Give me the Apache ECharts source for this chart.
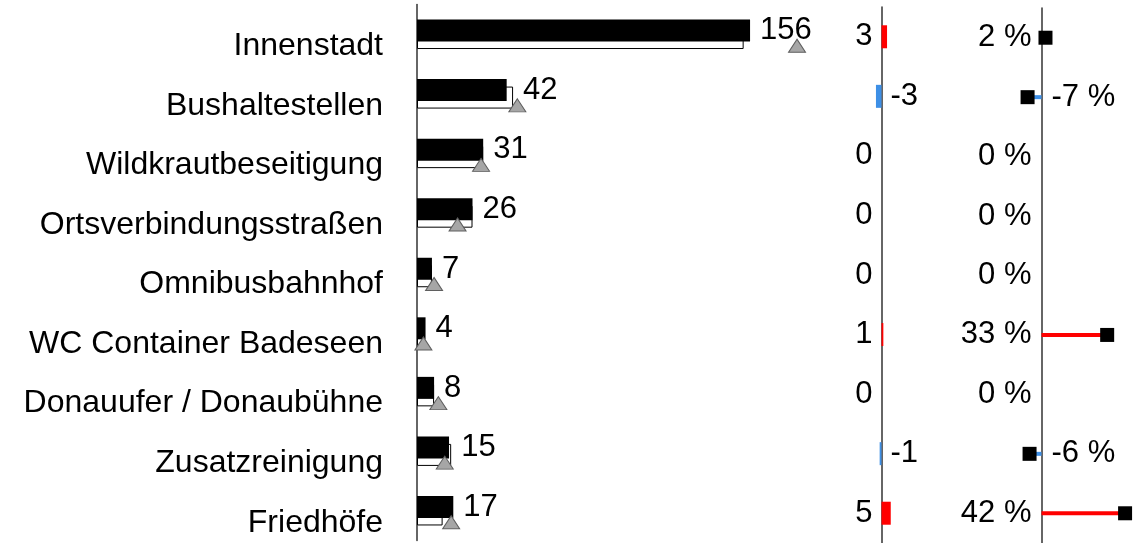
<!DOCTYPE html>
<html>
<head>
<meta charset="utf-8">
<script src="https://cdn.jsdelivr.net/npm/echarts@6/dist/echarts.min.js"></script>
<style>
  html, body { margin: 0; padding: 0; background: #fff; }
  #chart { width: 1141px; height: 543px; }
</style>
</head>
<body>
<div id="chart"></div>
<script>
// Kategorien und Werte
const categories = ['Innenstadt', 'Bushaltestellen', 'Wildkrautbeseitigung', 'Ortsverbindungsstraßen',
  'Omnibusbahnhof', 'WC Container Badeseen', 'Donauufer / Donaubühne', 'Zusatzreinigung', 'Friedhöfe'];
const current = [156, 42, 31, 26, 7, 4, 8, 15, 17];
const previous = [153, 45, 31, 26, 7, 3, 8, 16, 12];
const plan = [178, 47, 30, 19, 8, 3, 10, 13, 16];
const diffAbs = [3, -3, 0, 0, 0, 1, 0, -1, 5];
const diffPct = [2, -7, 0, 0, 0, 33, 0, -6, 42];

const FONT = "'Liberation Sans', Arial, sans-serif";
const RED = '#ff0000';
const BLUE = '#3d8fe6';

let chart = echarts.init(document.getElementById('chart'));

function catAxis(grid, labels) {
  return {
    gridIndex: grid,
    type: 'category',
    data: categories,
    inverse: true,
    axisTick: { show: false },
    axisLine: { show: true, onZero: true, lineStyle: { color: '#333', width: 1.5 } },
    axisLabel: labels ? {
      fontSize: 32, color: '#000', fontFamily: FONT, margin: 34,
      verticalAlign: 'top', lineHeight: 24
    } : { show: false }
  };
}

// Abweichung: positive Werte links der Achse, negative rechts
function diffItems(values) {
  return values.map(v => ({
    value: v,
    itemStyle: { color: v < 0 ? BLUE : RED },
    label: { position: v < 0 ? 'right' : 'left' }
  }));
}

let option = {
  animation: false,
  grid: [
    { left: 417, top: 4.5, width: 427, height: 536 },
    { left: 863, top: 7, width: 37, height: 536 },
    { left: 942, top: 8, width: 207, height: 536 }
  ],
  xAxis: [
    { gridIndex: 0, type: 'value', min: 0, max: 200, show: false },
    { gridIndex: 1, type: 'value', min: -10, max: 10, show: false },
    { gridIndex: 2, type: 'value', min: -50, max: 50, show: false }
  ],
  yAxis: [catAxis(0, true), catAxis(1, false), catAxis(2, false)],
  series: [
    {
      name: 'Aktuell',
      type: 'bar',
      xAxisIndex: 0, yAxisIndex: 0,
      barWidth: 22, barGap: '-66%',
      z: 3,
      itemStyle: { color: '#000' },
      data: current
    },
    {
      name: 'Vorjahr',
      type: 'bar',
      xAxisIndex: 0, yAxisIndex: 0,
      barWidth: 22, barGap: '-66%',
      z: 2,
      itemStyle: { color: '#fff', borderColor: '#000', borderWidth: 1 },
      data: previous
    },
    {
      name: 'Plan',
      type: 'scatter',
      xAxisIndex: 0, yAxisIndex: 0,
      symbol: 'triangle',
      symbolSize: [17, 13],
      symbolOffset: [0, 11.5],
      z: 4,
      itemStyle: { color: '#a6a6a6', borderColor: '#5f5f5f', borderWidth: 1, opacity: 1 },
      data: plan.map((v, i) => [v, categories[i]])
    },
    {
      name: 'Wert',
      type: 'scatter',
      xAxisIndex: 0, yAxisIndex: 0,
      symbolSize: 0,
      silent: true,
      itemStyle: { opacity: 1 },
      label: {
        show: true, position: 'right', distance: 10, offset: [0, -3.5],
        fontSize: 31, color: '#000', fontFamily: FONT,
        formatter: p => current[p.dataIndex]
      },
      data: current.map((v, i) => [Math.max(v, previous[i]), categories[i]])
    },
    {
      name: 'Abweichung',
      type: 'bar',
      xAxisIndex: 1, yAxisIndex: 1,
      barWidth: 23,
      label: { show: true, distance: 9, fontSize: 31, color: '#000', fontFamily: FONT },
      data: diffItems(diffAbs)
    },
    {
      name: 'Abweichung %',
      type: 'bar',
      xAxisIndex: 2, yAxisIndex: 2,
      barWidth: 4,
      label: { show: true, distance: 10, fontSize: 31, color: '#000', fontFamily: FONT, formatter: '{c} %' },
      data: diffItems(diffPct)
    },
    {
      name: 'Marker %',
      type: 'scatter',
      xAxisIndex: 2, yAxisIndex: 2,
      symbol: 'rect',
      symbolSize: 14,
      z: 4,
      itemStyle: { color: '#000', opacity: 1 },
      data: diffPct.map((v, i) => v === 0 ? '-' : [v, categories[i]])
    }
  ]
};
chart.setOption(option);
</script>
</body>
</html>
